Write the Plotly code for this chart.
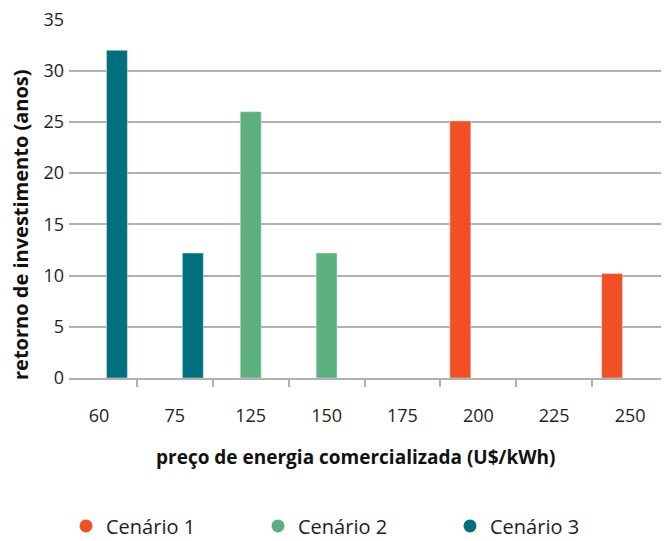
import plotly.graph_objects as go

categories = ["60", "75", "125", "150", "175", "200", "225", "250"]
cenario1 = [None, None, None, None, None, 25.1, None, 10.2]
cenario2 = [None, None, 26.0, 12.2, None, None, None, None]
cenario3 = [32.0, 12.2, None, None, None, None, None, None]
series_names = ["Cenário 1", "Cenário 2", "Cenário 3"]
y_ticks = [0, 5, 10, 15, 20, 25, 30, 35]

colors = ["#f05024", "#5cb07e", "#00707f"]
offsets = [-0.375, -0.138, 0.099]
FONT = "Open Sans"
TXT = "#231f20"

fig = go.Figure()
for name, vals, col, off in zip(series_names, [cenario1, cenario2, cenario3], colors, offsets):
    fig.add_trace(go.Bar(x=categories, y=vals, name=name, marker_color=col,
                         width=0.276, offset=off, showlegend=False))
for name, col in zip(series_names, colors):
    fig.add_trace(go.Scatter(x=[None], y=[None], mode="markers", name=name,
                             marker=dict(symbol="circle", size=13, color=col)))

fig.update_layout(
    width=661, height=533,
    margin=dict(l=61, r=0, t=11, b=163, autoexpand=False),
    paper_bgcolor="white", plot_bgcolor="white",
    barmode="overlay",
    font=dict(family=FONT, size=18, color=TXT),
    legend=dict(orientation="h", x=-0.005, xanchor="left", y=-0.412, yanchor="middle",
                font=dict(size=20, color=TXT), entrywidth=147, entrywidthmode="pixels",
                traceorder="normal"),
    xaxis=dict(type="category", categoryorder="array", categoryarray=categories,
               range=[-0.395, 7.513], showgrid=False, showline=True, linecolor="#b0b0b0",
               linewidth=1.5, ticks="outside", tickson="boundaries", ticklen=7,
               tickcolor="#b0b0b0", tickwidth=1.5, tickfont=dict(size=18, color=TXT),
               ticklabelstandoff=21, zeroline=False),
    yaxis=dict(range=[0, 35.05], tickvals=y_ticks, showgrid=True, gridcolor="#b0b0b0",
               gridwidth=1.5, zeroline=False, showline=False, ticks="",
               tickfont=dict(size=18, color=TXT), ticklabelstandoff=4,
               ticklabeloverflow="allow"),
    annotations=[
        dict(text="<b>preço de energia comercializada (U$/kWh)</b>", xref="paper", yref="paper",
             x=0.478, y=-0.221, xanchor="center", yanchor="middle", showarrow=False,
             font=dict(size=19, color="#111111")),
        dict(text="<b>retorno de investimento (anos)</b>", xref="paper", yref="paper",
             x=-0.0812, y=0.427, xanchor="center", yanchor="middle", textangle=-90,
             showarrow=False, font=dict(size=20, color="#111111")),
    ],
)

fig.write_html("out.html")
